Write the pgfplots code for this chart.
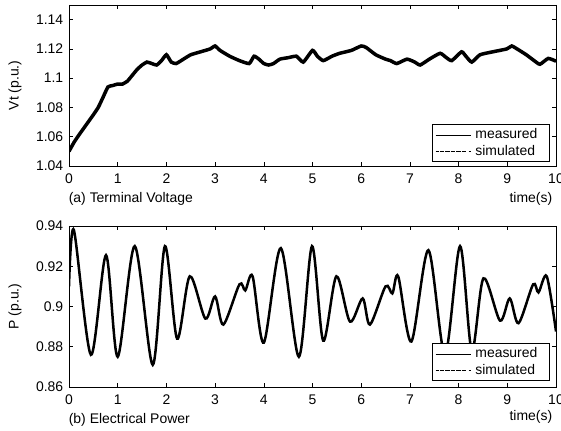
\documentclass[border=0pt]{standalone}
\usepackage{fontspec}
\setmainfont{Liberation Sans}
\usepackage{pgfplots}
\pgfplotsset{compat=1.18}

\pgfplotstableread{
x y
0 1.050
0.1 1.056
0.2 1.061
0.35 1.068
0.5 1.075
0.6 1.080
0.7 1.087
0.8 1.094
0.9 1.095
1.0 1.096
1.1 1.096
1.2 1.098
1.3 1.102
1.4 1.106
1.5 1.109
1.6 1.111
1.7 1.110
1.8 1.109
1.9 1.112
2.0 1.116
2.1 1.111
2.2 1.110
2.35 1.113
2.5 1.116
2.7 1.118
2.9 1.120
3.0 1.122
3.1 1.119
3.3 1.115
3.5 1.112
3.7 1.110
3.8 1.115
3.9 1.113
4.0 1.110
4.1 1.109
4.2 1.110
4.33 1.113
4.5 1.114
4.67 1.115
4.81 1.111
5.0 1.119
5.1 1.115
5.22 1.112
5.4 1.115
5.56 1.117
5.8 1.119
6.0 1.122
6.1 1.121
6.3 1.116
6.5 1.113
6.6 1.112
6.73 1.110
6.94 1.113
7.1 1.111
7.21 1.109
7.4 1.113
7.62 1.117
7.75 1.114
7.86 1.112
8.06 1.118
8.15 1.115
8.27 1.111
8.44 1.116
8.7 1.118
8.99 1.120
9.09 1.122
9.2 1.120
9.39 1.116
9.55 1.112
9.67 1.1095
9.84 1.1135
10 1.1116
}\volt

\pgfplotstableread{
x y
0 0.910
0.1 0.938
0.45 0.876
0.76 0.9255
1.0 0.875
1.35 0.930
1.72 0.871
1.97 0.930
2.22 0.884
2.48 0.915
2.8 0.894
3.0 0.905
3.17 0.891
3.5 0.911
3.62 0.908
3.77 0.915
4.0 0.882
4.35 0.929
4.72 0.875
4.99 0.930
5.22 0.883
5.49 0.915
5.77 0.8925
6.03 0.904
6.18 0.891
6.50 0.910
6.64 0.9065
6.76 0.915
7.03 0.8826
7.38 0.928
7.72 0.876
8.03 0.930
8.27 0.878
8.51 0.914
8.85 0.893
9.05 0.904
9.23 0.8917
9.53 0.911
9.64 0.907
9.81 0.915
10 0.8876
}\power

\begin{document}
\fontsize{14}{16}\selectfont
\begin{tikzpicture}
\pgfplotsset{
  mat/.style={
    scale only axis, width=487bp, height=161bp,
    xmin=0, xmax=10, xtick={0,1,...,10},
    tick align=inside, major tick length=4bp,
    axis line style={line width=0.6pt},
    every tick/.style={black, line width=0.6pt},
    /pgf/number format/assume math mode=true,
    tick label style={font=\fontsize{14}{16}\selectfont},
    yticklabel style={/pgf/number format/fixed, /pgf/number format/precision=2, xshift=-1bp},
    xticklabel style={yshift=-3bp},
    label style={font=\fontsize{14}{16}\selectfont},
    ylabel style={at={(axis description cs:-0.111,0.5)}, anchor=center},
    legend cell align=left,
    legend style={draw=black, line width=0.6pt, fill=white, anchor=south east,
      font=\fontsize{14}{16}\selectfont, inner xsep=3bp, inner ysep=3bp, row sep=1bp,
      nodes={inner xsep=4.5bp, inner ysep=1.5bp, text width=66bp, align=left}},
    legend image code/.code={\draw[#1] (0bp,0bp) -- (23bp,0bp); \path (-4bp,0bp) -- (31bp,0bp);},
    legend image post style={line width=0.6pt},
  },
}
\begin{axis}[mat, name=top, at={(0,0)}, anchor=north west,
  ymin=1.04, ymax=1.15, ytick={1.04,1.06,...,1.141},
  ylabel={Vt (p.u.)},
  legend style={at={(axis description cs:0.986,0.025)}}]
\addplot[black, line width=3.5bp, smooth, tension=0.3] table[x=x,y=y]{\volt};
\addlegendentry{measured}
\addplot[black, line width=0.6pt, dash pattern=on 3bp off 2.5bp, smooth, tension=0.3] table[x=x,y=y]{\volt};
\addlegendentry{simulated}
\end{axis}
\node[anchor=west] at ([xshift=-5bp,yshift=-33bp]top.south west) {(a) Terminal Voltage};
\node[anchor=east] at ([xshift=1bp,yshift=-33bp]top.south east) {time(s)};

\begin{axis}[mat, name=bot, at={(0,-221bp)}, anchor=north west,
  ymin=0.86, ymax=0.94, ytick={0.86,0.88,...,0.941},
  ylabel={P (p.u.)},
  legend style={at={(axis description cs:0.986,0.037)}}]
\addplot[black, line width=2.5bp, smooth, tension=0.5] table[x=x,y=y]{\power};
\addlegendentry{measured}
\addplot[black, line width=0.6pt, dash pattern=on 3bp off 2.5bp, smooth, tension=0.5] table[x=x,y=y]{\power};
\addlegendentry{simulated}
\end{axis}
\node[anchor=west] at ([xshift=-5bp,yshift=-33bp]bot.south west) {(b) Electrical Power};
\node[anchor=east] at ([xshift=1bp,yshift=-30bp]bot.south east) {time(s)};

\pgfresetboundingbox
\path[use as bounding box] ([xshift=-69bp,yshift=5bp]top.north west) rectangle ([xshift=5bp,yshift=-44bp]bot.south east);
\end{tikzpicture}
\end{document}
